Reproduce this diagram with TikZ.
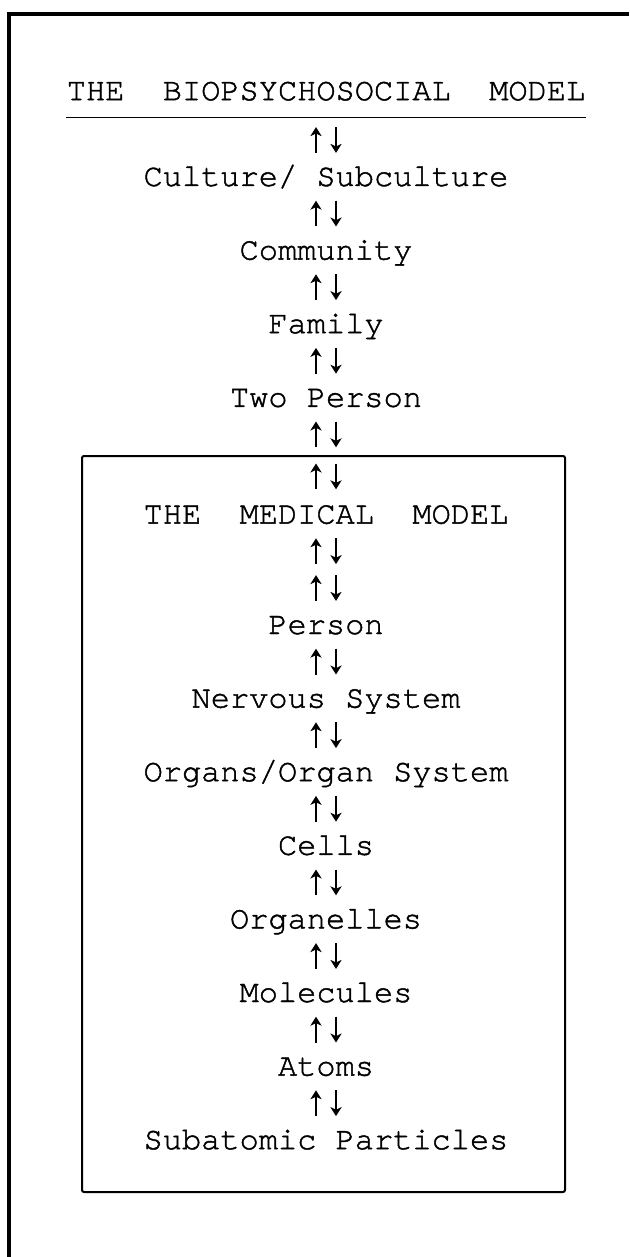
\documentclass[tikz,border=0pt]{standalone}
\usepackage{fontspec}
\newfontfamily\typefont{texgyrecursor}[Extension=.otf, UprightFont=*-regular, FakeBold=1.4]
\usetikzlibrary{positioning,arrows.meta}

\begin{document}
\begin{tikzpicture}[
    x=0.5pt, y=-0.5pt,
    node distance=18.4pt,
    on grid,
    tier/.style={font=\typefont\fontsize{16}{18}\selectfont, inner sep=0pt, text height=9.2pt, text depth=0pt},
    updown/.style={minimum width=9.6pt, minimum height=12.5pt, inner sep=0pt},
    twoway/.style={line width=0.8pt, -{Stealth[length=4.5pt, width=5.6pt, inset=1.3pt]}},
    pageedge/.style={line width=2pt},
    medbox/.style={line width=1pt, rounded corners=1pt}
]
  \useasboundingbox (0,0) rectangle (629,1257);
  \draw[pageedge] (9,1257) -- (9,14) -- (629,14);

  \node[tier] (title) at (326,91) {THE\ \ BIOPSYCHOSOCIAL\ \ MODEL};
  \draw[line width=0.8pt] ([yshift=-8.4pt]title.south west) -- ([yshift=-8.4pt]title.south east);

  \node[updown] (ud1) [below=24.5pt of title] {};
  \node[tier] (culture) [below=of ud1] {Culture/ Subculture};
  \node[updown] (ud2) [below=of culture] {};
  \node[tier] (community) [below=of ud2] {Community};
  \node[updown] (ud3) [below=of community] {};
  \node[tier] (family) [below=of ud3] {Family};
  \node[updown] (ud4) [below=of family] {};
  \node[tier] (twoperson) [below=of ud4] {Two Person};
  \node[updown] (ud5) [below=of twoperson] {};

  \draw[medbox] (82,456) rectangle (565,1192);

  \node[updown] (ud6) [below=21pt of ud5] {};
  \node[tier] (medical) [below=19pt of ud6] {THE\ \ MEDICAL\ \ MODEL};
  \node[updown] (ud7) [below=of medical] {};
  \node[updown] (ud8) [below=of ud7] {};
  \node[tier] (person) [below=of ud8] {Person};
  \node[updown] (ud9) [below=of person] {};
  \node[tier] (nervous) [below=of ud9] {Nervous System};
  \node[updown] (ud10) [below=of nervous] {};
  \node[tier] (organs) [below=of ud10] {Organs/Organ System};
  \node[updown] (ud11) [below=of organs] {};
  \node[tier] (cells) [below=of ud11] {Cells};
  \node[updown] (ud12) [below=of cells] {};
  \node[tier] (organelles) [below=of ud12] {Organelles};
  \node[updown] (ud13) [below=of organelles] {};
  \node[tier] (molecules) [below=of ud13] {Molecules};
  \node[updown] (ud14) [below=of molecules] {};
  \node[tier] (atoms) [below=of ud14] {Atoms};
  \node[updown] (ud15) [below=of atoms] {};
  \node[tier] (subatomic) [below=of ud15] {Subatomic Particles};

  \foreach \n in {1,...,15} {
    \draw[twoway] (ud\n.south west) -- (ud\n.north west);
    \draw[twoway] (ud\n.north east) -- (ud\n.south east);
  }
\end{tikzpicture}
\end{document}
